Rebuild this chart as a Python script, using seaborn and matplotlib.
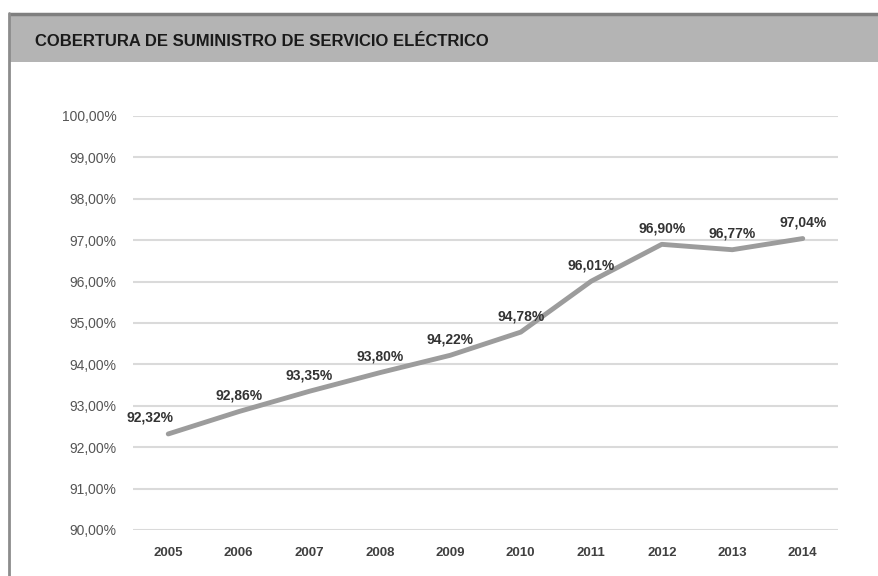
import matplotlib
matplotlib.use("Agg")
import matplotlib.pyplot as plt
import seaborn as sns
import pandas as pd
from matplotlib.patches import Rectangle
from matplotlib.lines import Line2D

years = ["2005", "2006", "2007", "2008", "2009", "2010", "2011", "2012", "2013", "2014"]
coverage = [92.32, 92.86, 93.35, 93.80, 94.22, 94.78, 96.01, 96.90, 96.77, 97.04]
yticks = [90, 91, 92, 93, 94, 95, 96, 97, 98, 99, 100]
title = "COBERTURA DE SUMINISTRO DE SERVICIO ELÉCTRICO"

sns.set_theme(style="white")
plt.rcParams['font.family'] = ['Liberation Sans', 'DejaVu Sans']

df = pd.DataFrame({"year": years, "cov": coverage})
df["pos"] = range(len(df))

fig = plt.figure(figsize=(8.79, 5.76), dpi=100)
fig.patch.set_facecolor("white")

# header band
fig.patches.append(Rectangle((10/879, 1 - 62/576), 1, 47/576, transform=fig.transFigure,
                             facecolor="#b4b4b4", edgecolor="none", zorder=0))
fig.lines.append(Line2D([10/879, 1], [1 - 14/576, 1 - 14/576], transform=fig.transFigure,
                        color="#7f7f7f", lw=2.5))
fig.lines.append(Line2D([9/879, 9/879], [0, 1 - 13/576], transform=fig.transFigure,
                        color="#8c8c8c", lw=2))
fig.text(35/879, 1 - 42/576, title, fontsize=12, fontweight="bold", color="#1a1a1a",
         ha="left", va="center")

ax = fig.add_axes([133/879, 46/576, (838 - 133)/879, (530 - 116)/576])
sns.lineplot(data=df, x="pos", y="cov", ax=ax, color="#9c9c9c", lw=3.5, zorder=3)

ax.set_xlim(-0.5, len(years) - 0.5)
ax.set_ylim(90, 100)
ax.set_yticks(yticks)
ax.set_yticklabels([f"{v:.2f}".replace(".", ",") + "%" for v in yticks],
                   fontsize=10, color="#555555")
ax.set_xticks(df["pos"])
ax.set_xticklabels(years, fontsize=9.5, fontweight="bold", color="#404040")
ax.tick_params(axis="y", pad=12, length=0)
ax.tick_params(axis="x", pad=12, length=0)
ax.yaxis.grid(True, color="#dadada", lw=1.5, linestyle="-")
ax.xaxis.grid(False)
for s in ax.spines.values():
    s.set_visible(False)
ax.set_xlabel("")
ax.set_ylabel("")
ax.set_facecolor("none")

for i, (p, v) in enumerate(zip(df["pos"], df["cov"])):
    dx = -18 if i == 0 else 0
    ax.annotate(f"{v:.2f}".replace(".", ",") + "%", (p, v), xytext=(dx, 16),
                textcoords="offset pixels", ha="center", va="center",
                fontsize=10, fontweight="bold", color="#333333", zorder=5)

fig.savefig("out.png", dpi=100)
